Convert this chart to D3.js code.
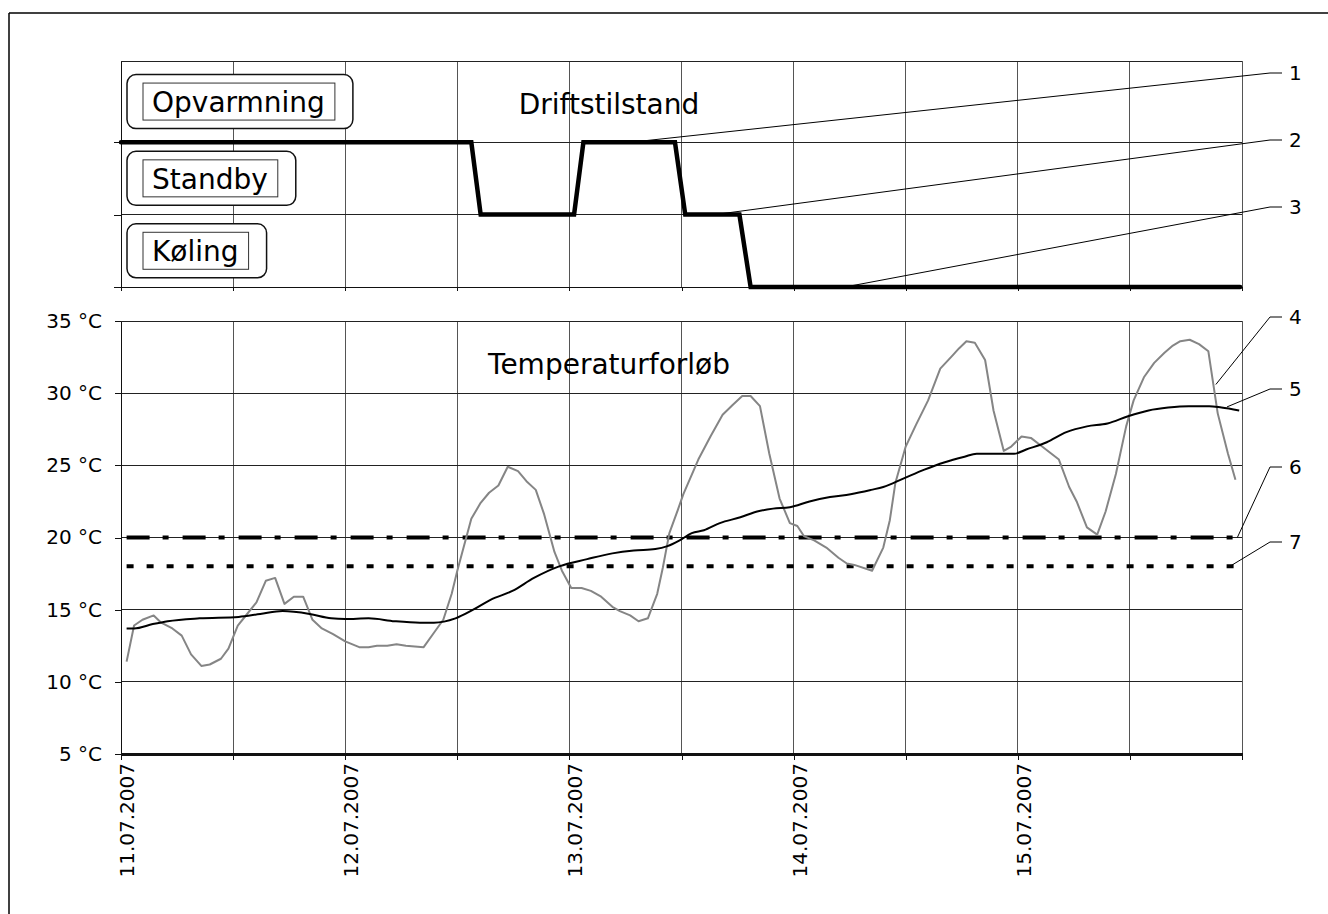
<!DOCTYPE html>
<html>
<head>
<meta charset="utf-8">
<script src="https://cdn.jsdelivr.net/npm/d3@7/dist/d3.min.js"></script>
<style>
body { margin: 0; background: #fff; }
svg text { font-family: "DejaVu Sans", sans-serif; fill: #000; }
</style>
</head>
<body>
<svg id="chart" width="1328" height="914"></svg>
<script>
// DATA
// hours are counted from 11.07.2007 00:00
var stateNames = ['Køling', 'Standby', 'Opvarmning'];
var stateHours = [0, 37.5, 38.5, 48.5, 49.5, 59.3, 60.4, 66.2, 67.4, 119.8];
var stateValues = [2, 2, 1, 1, 2, 2, 1, 1, 0, 0];

var outdoorHours = [0.6, 1.4, 2.3, 3.5, 4.3, 5.5, 6.5, 7.5, 8.6, 9.5, 10.7, 11.5, 12.5, 13.5, 14.5, 15.5, 16.5, 17.5, 18.5, 19.5,
    20.5, 21.5, 22.7, 24.0, 25.5, 26.5, 27.4, 28.5, 29.5, 30.5, 32.4, 33.5, 34.5, 35.4, 36.0, 37.5, 38.5, 39.4, 40.4, 41.4,
    42.5, 43.4, 44.4, 45.3, 46.4, 47.2, 48.2, 49.3, 50.3, 51.4, 52.6, 53.4, 54.5, 55.4, 56.4, 57.4, 58.0, 58.7, 59.6, 60.2,
    61.8, 63.1, 64.4, 65.5, 66.5, 67.4, 68.4, 69.4, 70.5, 71.6, 72.4, 73.1, 74.2, 75.5, 76.8, 77.7, 78.5, 80.4, 81.6, 82.3,
    82.9, 84.0, 85.1, 86.4, 87.7, 89.0, 89.7, 90.5, 91.4, 92.5, 93.4, 94.5, 95.3, 96.4, 97.4, 98.6, 100.4, 101.5, 102.3, 103.4,
    104.5, 105.4, 106.5, 107.6, 108.4, 109.5, 110.6, 111.7, 112.6, 113.4, 114.4, 115.4, 116.4, 117.4, 118.5, 119.3];
var outdoorTemps = [11.4, 13.9, 14.3, 14.6, 14.1, 13.7, 13.2, 11.9, 11.1, 11.2, 11.6, 12.3, 13.9, 14.7, 15.5, 17.0, 17.2, 15.4, 15.9, 15.9,
    14.3, 13.7, 13.3, 12.8, 12.4, 12.4, 12.5, 12.5, 12.6, 12.5, 12.4, 13.4, 14.3, 16.1, 17.7, 21.3, 22.4, 23.1, 23.6, 24.9,
    24.6, 23.9, 23.3, 21.6, 19.0, 17.7, 16.5, 16.5, 16.3, 15.9, 15.2, 14.9, 14.6, 14.2, 14.4, 16.1, 17.9, 20.3, 21.9, 23.0,
    25.4, 27.0, 28.5, 29.2, 29.8, 29.8, 29.1, 25.8, 22.7, 21.0, 20.8, 20.1, 19.8, 19.3, 18.6, 18.2, 18.1, 17.7, 19.3, 21.2,
    23.8, 26.3, 27.8, 29.5, 31.7, 32.6, 33.1, 33.6, 33.5, 32.3, 28.8, 26.0, 26.3, 27.0, 26.9, 26.3, 25.4, 23.5, 22.5, 20.7,
    20.2, 21.8, 24.4, 27.7, 29.5, 31.1, 32.1, 32.8, 33.3, 33.6, 33.7, 33.4, 32.9, 28.6, 25.8, 24.0];

var meanHours = [0.6, 1.4, 3.4, 5.0, 8.4, 12.6, 14.9, 17.3, 20.2, 22.5, 24.0, 26.5, 29.3, 32.0, 33.5, 35.8, 37.7, 39.6, 41.9, 44.2,
    46.9, 49.9, 52.6, 54.9, 57.2, 58.5, 59.8, 61.1, 62.4, 64.1, 66.3, 68.1, 69.8, 71.6, 73.7, 75.9, 78.1, 80.3, 81.6, 83.8,
    86.0, 88.1, 90.3, 91.6, 93.4, 95.6, 96.9, 99.1, 101.2, 103.4, 105.6, 107.8, 110.0, 112.1, 114.3, 116.5, 117.8, 119.7];
var meanTemps = [13.7, 13.7, 14.0, 14.2, 14.4, 14.5, 14.7, 14.9, 14.7, 14.4, 14.35, 14.4, 14.2, 14.1, 14.1, 14.4, 15.0, 15.7, 16.3, 17.2,
    18.0, 18.5, 18.9, 19.1, 19.2, 19.4, 19.8, 20.3, 20.5, 21.0, 21.4, 21.8, 22.0, 22.1, 22.5, 22.8, 23.0, 23.3, 23.5, 24.1,
    24.7, 25.2, 25.6, 25.8, 25.8, 25.8, 26.1, 26.6, 27.3, 27.7, 27.9, 28.4, 28.8, 29.0, 29.1, 29.1, 29.0, 28.8];

var limitHours = [0.6, 119.5];
var heatLimit = [20, 20];
var coolLimit = [18, 18];

var tempTicks = [5, 10, 15, 20, 25, 30, 35];
var dayLabels = ['11.07.2007', '12.07.2007', '13.07.2007', '14.07.2007', '15.07.2007'];

var calloutLabels = ['1', '2', '3', '4', '5', '6', '7'];
var calloutHours = [54.7, 63.6, 77.5, 117.2, 118.4, 119.5, 118.7];
var calloutValues = [2, 1, 0, 30.6, 29.05, 20, 18];

// CHART
var chrt = {
    config: {
        start: new Date(2007, 6, 11),
        left: 121, right: 1242,
        stateTop: 61, stateBottom: 287,
        tempTop: 321, tempBottom: 754,
        calloutY: [73, 140, 207, 317, 389, 467, 542]
    },
    at: function(h) {
        return new Date(chrt.config.start.getTime() + h * 3600000);
    },
    build_chart: function() {
        var c = chrt.config;
        var svg = d3.select('svg#chart');

        var x = d3.scaleTime().domain([chrt.at(0), chrt.at(120)]).range([c.left, c.right]);
        var yState = d3.scaleLinear().domain([0, 3.12]).range([c.stateBottom, c.stateTop]);
        var yTemp = d3.scaleLinear().domain([5, 35]).range([c.tempBottom, c.tempTop]);
        var xTicks = x.ticks(d3.timeHour.every(12));

        // outer frame
        svg.append('line').attr('x1', 9).attr('x2', 9).attr('y1', 13).attr('y2', 914)
            .attr('stroke', '#000').attr('stroke-width', 1.5);
        svg.append('line').attr('x1', 9).attr('x2', 1328).attr('y1', 13).attr('y2', 13)
            .attr('stroke', '#000').attr('stroke-width', 1.5);

        // --- top panel: Driftstilstand
        var top = svg.append('g').attr('shape-rendering', 'crispEdges');
        top.selectAll('line.vg').data(xTicks).enter().append('line')
            .attr('x1', function(d) { return x(d); }).attr('x2', function(d) { return x(d); })
            .attr('y1', c.stateTop).attr('y2', c.stateBottom)
            .attr('stroke', '#555').attr('stroke-width', 1);
        top.selectAll('line.hg').data([1, 2]).enter().append('line')
            .attr('x1', c.left).attr('x2', c.right)
            .attr('y1', function(d) { return yState(d); }).attr('y2', function(d) { return yState(d); })
            .attr('stroke', '#222').attr('stroke-width', 1);
        top.append('line').attr('x1', c.left).attr('x2', c.right)
            .attr('y1', c.stateTop).attr('y2', c.stateTop).attr('stroke', '#222');

        var ly = top.append('g').attr('transform', 'translate(' + c.left + ',0)')
            .call(d3.axisLeft(yState).tickValues([0, 1, 2]).tickSize(7).tickSizeOuter(0).tickFormat(''));
        var lx = top.append('g').attr('transform', 'translate(0,' + c.stateBottom + ')')
            .call(d3.axisBottom(x).ticks(d3.timeHour.every(12)).tickSize(4).tickSizeOuter(0).tickFormat(''));
        [ly, lx].forEach(function(a) {
            a.selectAll('path,line').attr('stroke', '#111');
        });

        // state labels in boxes
        stateNames.forEach(function(name, i) {
            var cy = (yState(i) + yState(i + 1 > 2 ? 3.12 : i + 1)) / 2;
            var g = svg.append('g');
            var outer = g.append('rect');
            var inner = g.append('rect');
            var t = g.append('text').attr('x', 152).attr('y', cy + 10.5)
                .attr('font-size', 28).text(name);
            var len = t.node().getComputedTextLength();
            inner.attr('x', 143).attr('y', cy - 18.5).attr('width', len + 19).attr('height', 37)
                .attr('fill', '#fff').attr('stroke', '#333').attr('stroke-width', 1);
            outer.attr('x', 127).attr('y', cy - 27).attr('width', len + 19 + 34).attr('height', 54)
                .attr('rx', 9).attr('fill', '#fff').attr('stroke', '#111').attr('stroke-width', 1.5);
        });

        svg.append('text').attr('x', 609).attr('y', 114).attr('text-anchor', 'middle')
            .attr('font-size', 28).text('Driftstilstand');

        var stateData = stateHours.map(function(h, i) { return { t: chrt.at(h), v: stateValues[i] }; });
        var stateLine = d3.line().x(function(d) { return x(d.t); }).y(function(d) { return yState(d.v); });
        svg.append('path').datum(stateData).attr('d', stateLine)
            .attr('fill', 'none').attr('stroke', '#000').attr('stroke-width', 4.5)
            .attr('stroke-linejoin', 'miter').attr('stroke-linecap', 'round');

        // --- bottom panel: Temperaturforløb
        var bot = svg.append('g').attr('shape-rendering', 'crispEdges');
        bot.selectAll('line.vg').data(xTicks).enter().append('line')
            .attr('x1', function(d) { return x(d); }).attr('x2', function(d) { return x(d); })
            .attr('y1', c.tempTop).attr('y2', c.tempBottom)
            .attr('stroke', '#555').attr('stroke-width', 1);
        bot.selectAll('line.hg').data(tempTicks).enter().append('line')
            .attr('x1', c.left).attr('x2', c.right)
            .attr('y1', function(d) { return yTemp(d); }).attr('y2', function(d) { return yTemp(d); })
            .attr('stroke', '#222').attr('stroke-width', 1);

        var ay = bot.append('g').attr('transform', 'translate(' + c.left + ',0)')
            .call(d3.axisLeft(yTemp).tickValues(tempTicks).tickSize(6).tickSizeOuter(0).tickPadding(13)
                .tickFormat(function(d) { return d + ' °C'; }));
        ay.selectAll('text').attr('font-size', 20).attr('font-family', '"DejaVu Sans", sans-serif').attr('fill', '#000');
        ay.selectAll('path,line').attr('stroke', '#111');

        var ax = bot.append('g').attr('transform', 'translate(0,' + c.tempBottom + ')')
            .call(d3.axisBottom(x).ticks(d3.timeHour.every(12)).tickSize(6).tickSizeOuter(0).tickFormat(''));
        ax.select('path').attr('stroke', '#111').attr('stroke-width', 2.5);
        ax.selectAll('line').attr('stroke', '#111');

        svg.selectAll('text.day').data(dayLabels).enter().append('text')
            .attr('class', 'day')
            .attr('transform', function(d, i) {
                return 'translate(' + (x(chrt.at(i * 24)) + 13) + ',763) rotate(-90)';
            })
            .attr('text-anchor', 'end').attr('font-size', 20).text(function(d) { return d; });

        svg.append('text').attr('x', 609).attr('y', 374).attr('text-anchor', 'middle')
            .attr('font-size', 28).text('Temperaturforløb');

        var tLine = d3.line().x(function(d) { return x(d.t); }).y(function(d) { return yTemp(d.v); });
        function series(hours, vals) {
            return hours.map(function(h, i) { return { t: chrt.at(h), v: vals[i] }; });
        }
        svg.append('path').datum(series(limitHours, heatLimit)).attr('d', tLine)
            .attr('fill', 'none').attr('stroke', '#000').attr('stroke-width', 4)
            .attr('stroke-dasharray', '23,13,6,14');
        svg.append('path').datum(series(limitHours, coolLimit)).attr('d', tLine)
            .attr('fill', 'none').attr('stroke', '#000').attr('stroke-width', 4)
            .attr('stroke-dasharray', '7,13');
        svg.append('path').datum(series(outdoorHours, outdoorTemps)).attr('d', tLine)
            .attr('fill', 'none').attr('stroke', '#858585').attr('stroke-width', 2)
            .attr('stroke-linejoin', 'round');
        svg.append('path').datum(series(meanHours, meanTemps)).attr('d', d3.line().curve(d3.curveMonotoneX)
                .x(function(d) { return x(d.t); }).y(function(d) { return yTemp(d.v); }))
            .attr('fill', 'none').attr('stroke', '#000').attr('stroke-width', 2);

        // --- callouts
        calloutLabels.forEach(function(lab, i) {
            var tx = x(chrt.at(calloutHours[i]));
            var ty = i < 3 ? yState(calloutValues[i]) : yTemp(calloutValues[i]);
            var cy = c.calloutY[i];
            svg.append('path')
                .attr('d', 'M1282,' + cy + 'H1270L' + tx + ',' + ty)
                .attr('fill', 'none').attr('stroke', '#000').attr('stroke-width', 1);
            svg.append('text').attr('x', 1289).attr('y', cy + 7)
                .attr('font-size', 20).text(lab);
        });
    },
    init: function() {
        chrt.build_chart();
    }
};

chrt.init();
</script>
</body>
</html>
